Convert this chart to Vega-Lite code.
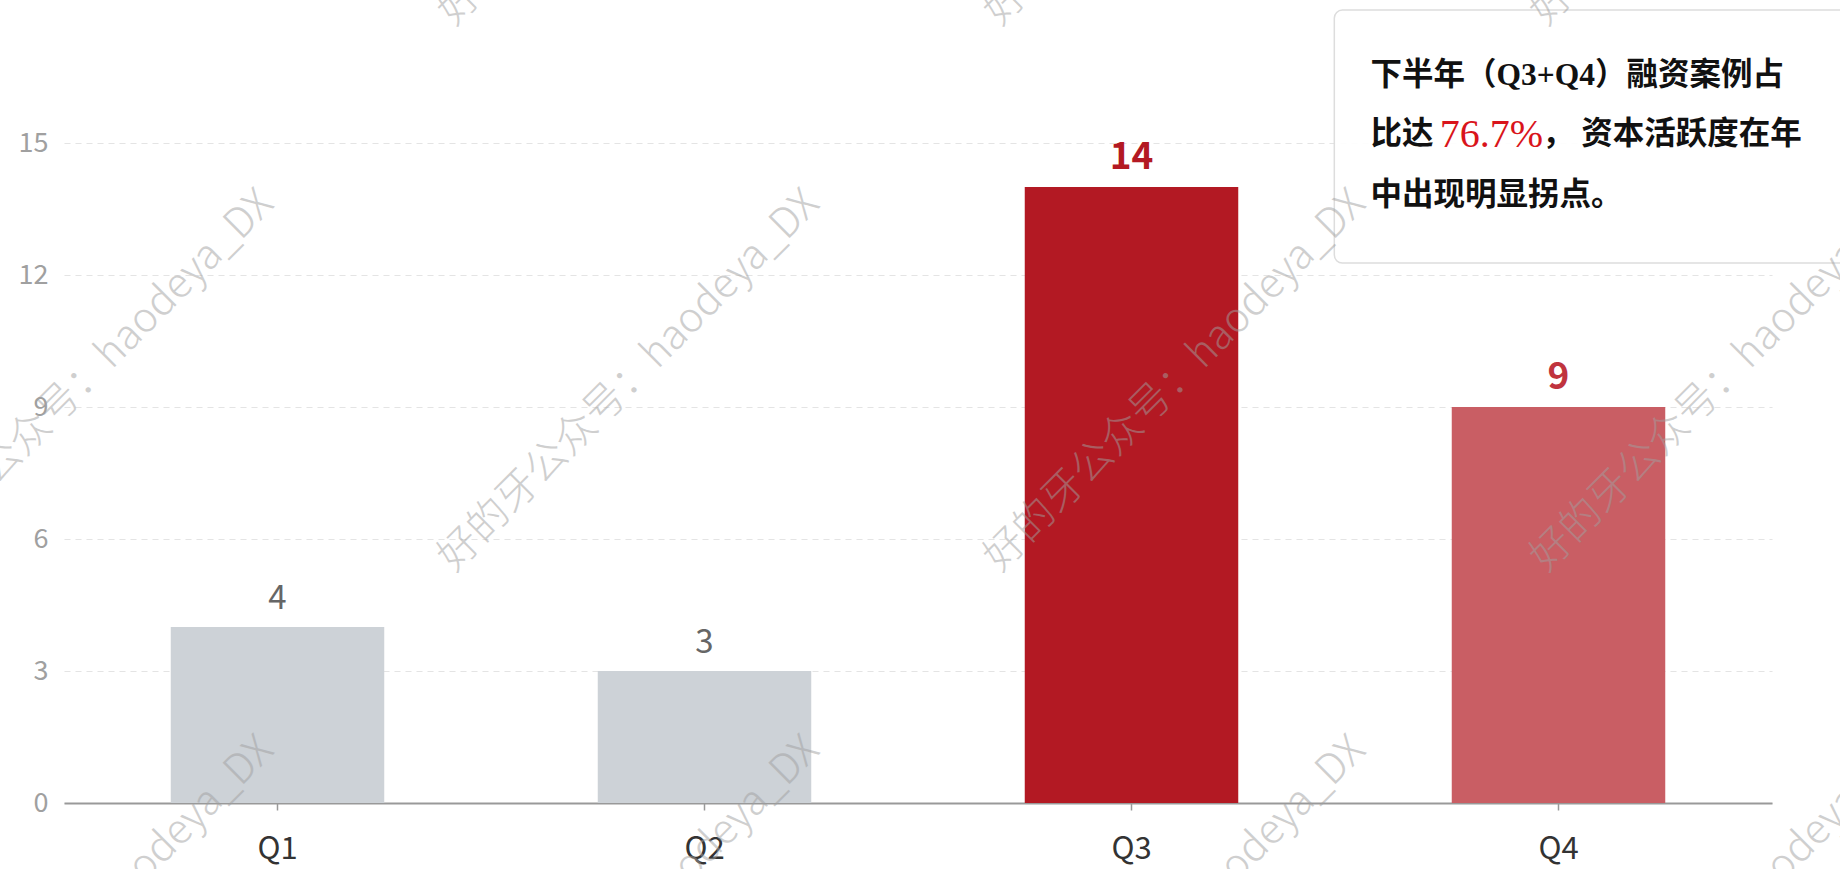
{
  "$schema": "https://vega.github.io/schema/vega-lite/v6.json",
  "width": 1708,
  "height": 660,
  "autosize": {"type": "none"},
  "padding": {"left": 64, "top": 143, "right": 68, "bottom": 66},
  "background": "white",
  "config": {"view": {"stroke": null}, "font": "Noto Sans CJK SC"},
  "datasets": {
    "bars": [
      {"quarter": "Q1", "count": 4},
      {"quarter": "Q2", "count": 3},
      {"quarter": "Q3", "count": 14},
      {"quarter": "Q4", "count": 9}
    ],
    "box": [{"x0": 2.975, "x1": 4.3, "y0": 12.27, "y1": 18.02}],
    "notes": [
      {"x": 3.06, "y": 16.52, "text": "下半年（Q3+Q4）融资案例占"},
      {"x": 3.06, "y": 15.18, "text": "比达"},
      {"x": 3.462, "y": 15.18, "text": "，"},
      {"x": 3.553, "y": 15.18, "text": "资本活跃度在年"},
      {"x": 3.06, "y": 13.8, "text": "中出现明显拐点。"}
    ],
    "highlight": [{"x": 3.222, "y": 15.18, "text": "76.7%"}],
    "watermarks": [
      {"x": 0.046, "y": 22.0, "text": "好的牙公众号：haodeya_DX"},
      {"x": 1.324, "y": 22.0, "text": "好的牙公众号：haodeya_DX"},
      {"x": 2.603, "y": 22.0, "text": "好的牙公众号：haodeya_DX"},
      {"x": 3.882, "y": 22.0, "text": "好的牙公众号：haodeya_DX"},
      {"x": 0.046, "y": 9.59, "text": "好的牙公众号：haodeya_DX"},
      {"x": 1.324, "y": 9.59, "text": "好的牙公众号：haodeya_DX"},
      {"x": 2.603, "y": 9.59, "text": "好的牙公众号：haodeya_DX"},
      {"x": 3.882, "y": 9.59, "text": "好的牙公众号：haodeya_DX"},
      {"x": 0.046, "y": -2.82, "text": "好的牙公众号：haodeya_DX"},
      {"x": 1.324, "y": -2.82, "text": "好的牙公众号：haodeya_DX"},
      {"x": 2.603, "y": -2.82, "text": "好的牙公众号：haodeya_DX"},
      {"x": 3.882, "y": -2.82, "text": "好的牙公众号：haodeya_DX"}
    ]
  },
  "resolve": {
    "scale": {"x": "independent", "y": "independent", "color": "independent"},
    "axis": {"x": "independent", "y": "independent"}
  },
  "layer": [
    {
      "data": {"name": "bars"},
      "mark": {"type": "bar"},
      "encoding": {
        "x": {
          "field": "quarter", "type": "nominal", "sort": null,
          "scale": {"paddingInner": 0.5, "paddingOuter": 0.25},
          "axis": {
            "title": null, "labelAngle": 0, "labelFontSize": 31, "labelColor": "#333333",
            "domainColor": "#999999", "domainWidth": 2, "tickColor": "#999999", "tickSize": 7,
            "tickWidth": 1.5, "labelPadding": 24, "grid": false
          }
        },
        "y": {
          "field": "count", "type": "quantitative",
          "scale": {"domain": [0, 15], "nice": false},
          "axis": {
            "title": null, "values": [0, 3, 6, 9, 12, 15], "domain": false, "ticks": false,
            "labelFontSize": 27, "labelColor": "#a0a0a0", "labelPadding": 16,
            "gridColor": "#e4e4e4", "gridDash": [6, 5], "gridWidth": 1.2
          }
        },
        "color": {
          "field": "quarter", "type": "nominal", "legend": null,
          "scale": {"domain": ["Q1", "Q2", "Q3", "Q4"], "range": ["#cdd2d7", "#cdd2d7", "#b31923", "#c95e64"]}
        }
      }
    },
    {
      "data": {"name": "bars"},
      "transform": [{"filter": "datum.quarter == 'Q1' || datum.quarter == 'Q2'"}],
      "mark": {"type": "text", "baseline": "alphabetic", "dy": -18, "fontSize": 33, "color": "#666666"},
      "encoding": {
        "x": {"field": "quarter", "type": "nominal", "sort": ["Q1", "Q2", "Q3", "Q4"], "scale": {"domain": ["Q1", "Q2", "Q3", "Q4"], "paddingInner": 0.5, "paddingOuter": 0.25}, "axis": null},
        "y": {"field": "count", "type": "quantitative", "scale": {"domain": [0, 15], "nice": false}, "axis": null},
        "text": {"field": "count", "type": "quantitative"}
      }
    },
    {
      "data": {"name": "bars"},
      "transform": [{"filter": "datum.quarter == 'Q3' || datum.quarter == 'Q4'"}],
      "mark": {"type": "text", "baseline": "alphabetic", "dy": -18, "fontSize": 37, "fontWeight": "bold"},
      "encoding": {
        "x": {"field": "quarter", "type": "nominal", "sort": ["Q1", "Q2", "Q3", "Q4"], "scale": {"domain": ["Q1", "Q2", "Q3", "Q4"], "paddingInner": 0.5, "paddingOuter": 0.25}, "axis": null},
        "y": {"field": "count", "type": "quantitative", "scale": {"domain": [0, 15], "nice": false}, "axis": null},
        "text": {"field": "count", "type": "quantitative"},
        "color": {
          "field": "quarter", "type": "nominal", "legend": null,
          "scale": {"domain": ["Q3", "Q4"], "range": ["#b31923", "#c0343e"]}
        }
      }
    },
    {
      "data": {"name": "box"},
      "mark": {"type": "rect", "fill": "white", "fillOpacity": 0.9, "stroke": "#dddddd", "strokeWidth": 1.5, "cornerRadius": 8},
      "encoding": {
        "x": {"field": "x0", "type": "quantitative", "scale": {"domain": [0, 4], "nice": false, "zero": false}, "axis": null},
        "x2": {"field": "x1"},
        "y": {"field": "y0", "type": "quantitative", "scale": {"domain": [0, 15], "nice": false}, "axis": null},
        "y2": {"field": "y1"}
      }
    },
    {
      "data": {"name": "notes"},
      "mark": {"type": "text", "align": "left", "baseline": "middle", "font": "Liberation Serif, Noto Sans CJK SC", "fontSize": 31.5, "fontWeight": "bold", "color": "#111111"},
      "encoding": {
        "x": {"field": "x", "type": "quantitative", "scale": {"domain": [0, 4], "nice": false, "zero": false}, "axis": null},
        "y": {"field": "y", "type": "quantitative", "scale": {"domain": [0, 15], "nice": false}, "axis": null},
        "text": {"field": "text", "type": "nominal"}
      }
    },
    {
      "data": {"name": "highlight"},
      "mark": {"type": "text", "align": "left", "baseline": "middle", "font": "Liberation Serif", "fontSize": 40, "color": "#d9141b"},
      "encoding": {
        "x": {"field": "x", "type": "quantitative", "scale": {"domain": [0, 4], "nice": false, "zero": false}, "axis": null},
        "y": {"field": "y", "type": "quantitative", "scale": {"domain": [0, 15], "nice": false}, "axis": null},
        "text": {"field": "text", "type": "nominal"}
      }
    },
    {
      "data": {"name": "watermarks"},
      "mark": {"type": "text", "align": "center", "baseline": "middle", "angle": -45, "fontSize": 41, "fontWeight": 300, "color": "#a0a0a0", "opacity": 0.5},
      "encoding": {
        "x": {"field": "x", "type": "quantitative", "scale": {"domain": [0, 4], "nice": false, "zero": false}, "axis": null},
        "y": {"field": "y", "type": "quantitative", "scale": {"domain": [0, 15], "nice": false}, "axis": null},
        "text": {"field": "text", "type": "nominal"}
      }
    }
  ]
}
